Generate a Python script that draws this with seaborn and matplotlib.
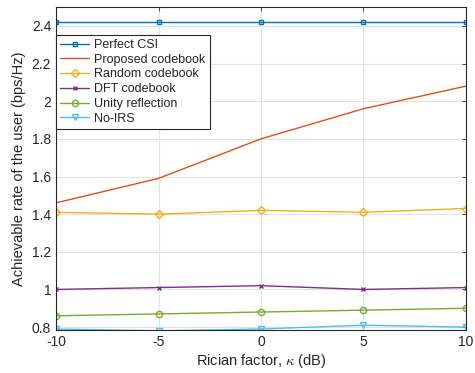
import numpy as np
import pandas as pd
import matplotlib
matplotlib.use('Agg')
import matplotlib.pyplot as plt
import seaborn as sns

kappa = [-10, -5, 0, 5, 10]
perfect_csi = [2.42, 2.42, 2.42, 2.42, 2.42]
proposed = [1.46, 1.59, 1.80, 1.96, 2.08]
random_cb = [1.41, 1.40, 1.42, 1.41, 1.43]
dft_cb = [1.00, 1.01, 1.02, 1.00, 1.01]
unity = [0.86, 0.87, 0.88, 0.89, 0.90]
no_irs = [0.79, 0.78, 0.79, 0.81, 0.80]

names = ['Perfect CSI', 'Proposed codebook', 'Random codebook',
         'DFT codebook', 'Unity reflection', 'No-IRS']
series = [perfect_csi, proposed, random_cb, dft_cb, unity, no_irs]
colors = ['#0072BD', '#D95319', '#EDB120', '#7E2F8E', '#77AC30', '#4DBEEE']
markers = ['s', None, 'D', 'x', 'o', 'v']
msizes = [3.5, 0, 4, 3.5, 4.5, 4.5]

df = pd.DataFrame({'kappa': kappa * len(names),
                   'rate': np.concatenate(series),
                   'scheme': np.repeat(names, len(kappa))})

sns.set_style('white')
plt.rcParams['font.family'] = ['Liberation Sans', 'DejaVu Sans']
plt.rcParams['mathtext.fontset'] = 'cm'
plt.rcParams['axes.unicode_minus'] = False

fig, ax = plt.subplots(figsize=(4.75, 3.73), dpi=100)
fig.subplots_adjust(left=0.118, right=0.981, top=0.981, bottom=0.115)

for name, c, m, ms in zip(names, colors, markers, msizes):
    sub = df[df['scheme'] == name]
    sns.lineplot(data=sub, x='kappa', y='rate', ax=ax, color=c, label=name,
                 marker=m, markersize=ms, markerfacecolor='none',
                 markeredgecolor=c, markeredgewidth=1.0, linewidth=1.0)

ax.set_xlim(-10, 10)
ax.set_ylim(0.784, 2.5)
ax.set_xticks([-10, -5, 0, 5, 10])
ax.set_yticks([0.8, 1.0, 1.2, 1.4, 1.6, 1.8, 2.0, 2.2, 2.4])
ax.set_yticklabels(['0.8', '1', '1.2', '1.4', '1.6', '1.8', '2', '2.2', '2.4'])
ax.grid(True, color='#e3e3e3', linewidth=0.8)
ax.tick_params(direction='in', length=3, labelsize=10, colors='#262626',
               top=True, right=True, width=0.6)
for s in ax.spines.values():
    s.set_color('#262626')
    s.set_linewidth(0.8)

ax.set_xlabel(r'Rician factor, $\kappa$ (dB)', fontsize=10.5, color='#262626', labelpad=2)
ax.set_ylabel('Achievable rate of the user (bps/Hz)', fontsize=10.5, color='#262626', labelpad=4)

leg = ax.legend(loc='upper left', bbox_to_anchor=(0.0, 0.915), fontsize=9,
                frameon=True, fancybox=False, edgecolor='#262626', framealpha=1,
                handlelength=2.3, handletextpad=0.4, borderpad=0.35, labelspacing=0.22,
                borderaxespad=0.0)
leg.get_frame().set_linewidth(0.8)

fig.savefig('out.png', dpi=100)
